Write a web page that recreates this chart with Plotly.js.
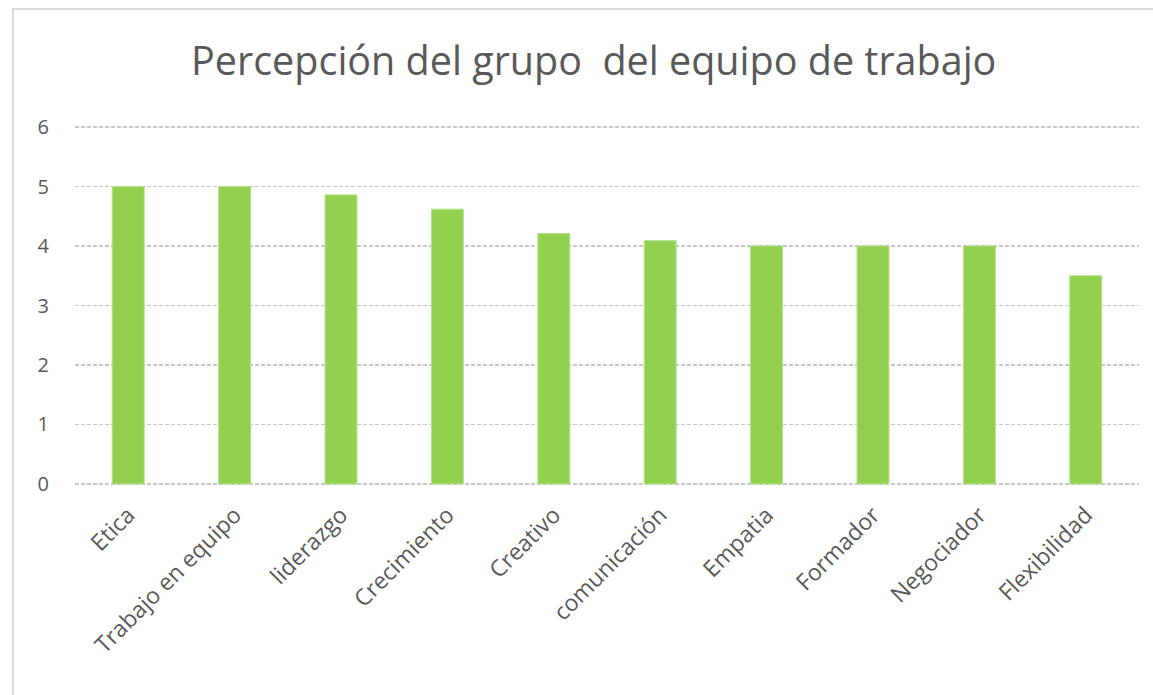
<!DOCTYPE html>
<html>
<head>
<meta charset="utf-8">
<script src="https://cdn.plot.ly/plotly-3.0.1.min.js"></script>
<style>
  html, body { margin: 0; padding: 0; background: #ffffff; }
  #frame { position: absolute; left: 12px; top: 8px; width: 1141px; height: 687px;
           border-left: 2px solid #d9d9d9; border-top: 2px solid #d9d9d9; box-sizing: border-box; }
  #chart { width: 1139px; height: 685px; }
</style>
</head>
<body>
<div id="frame"><div id="chart"></div></div>
<script>
const categories = ["Etica", "Trabajo en equipo", "liderazgo", "Crecimiento", "Creativo",
                    "comunicación", "Empatia", "Formador", "Negociador", "Flexibilidad"];
const values = [5, 5, 4.86, 4.62, 4.21, 4.09, 4, 4, 4, 3.5];
const yTicks = [0, 1, 2, 3, 4, 5, 6];
const chartTitle = "Percepción del grupo  del equipo de trabajo";

const trace = {
  type: "bar",
  x: categories,
  y: values,
  marker: { color: "#92D050", line: { color: "#b5e08a", width: 1 } },
  hoverinfo: "x+y"
};

const layout = {
  width: 1139,
  height: 685,
  paper_bgcolor: "#ffffff",
  plot_bgcolor: "#ffffff",
  margin: { l: 61, r: 14, t: 115, b: 209 },
  bargap: 0.7,
  showlegend: false,
  title: {
    text: chartTitle,
    font: { family: "Open Sans, sans-serif", size: 39.5, color: "#595959" },
    xref: "container", x: 0.509, xanchor: "center",
    yref: "container", y: 0.926, yanchor: "middle"
  },
  xaxis: {
    type: "category",
    tickangle: -45,
    tickfont: { family: "Open Sans, sans-serif", size: 23, color: "#595959" },
    showgrid: false,
    showline: false,
    ticks: "",
    zeroline: false,
    ticklabelstandoff: 10
  },
  yaxis: {
    range: [-0.035, 6.035],
    tickvals: yTicks,
    ticktext: yTicks.map(String),
    tickfont: { family: "Open Sans, sans-serif", size: 20, color: "#595959" },
    showgrid: true,
    gridcolor: "#c8c8c8",
    gridwidth: 1.5,
    griddash: "4px,2px",
    zeroline: false,
    showline: false,
    ticks: "",
    ticklabelstandoff: 25
  }
};

Plotly.newPlot("chart", [trace], layout, { displayModeBar: false, staticPlot: true });
</script>
</body>
</html>
